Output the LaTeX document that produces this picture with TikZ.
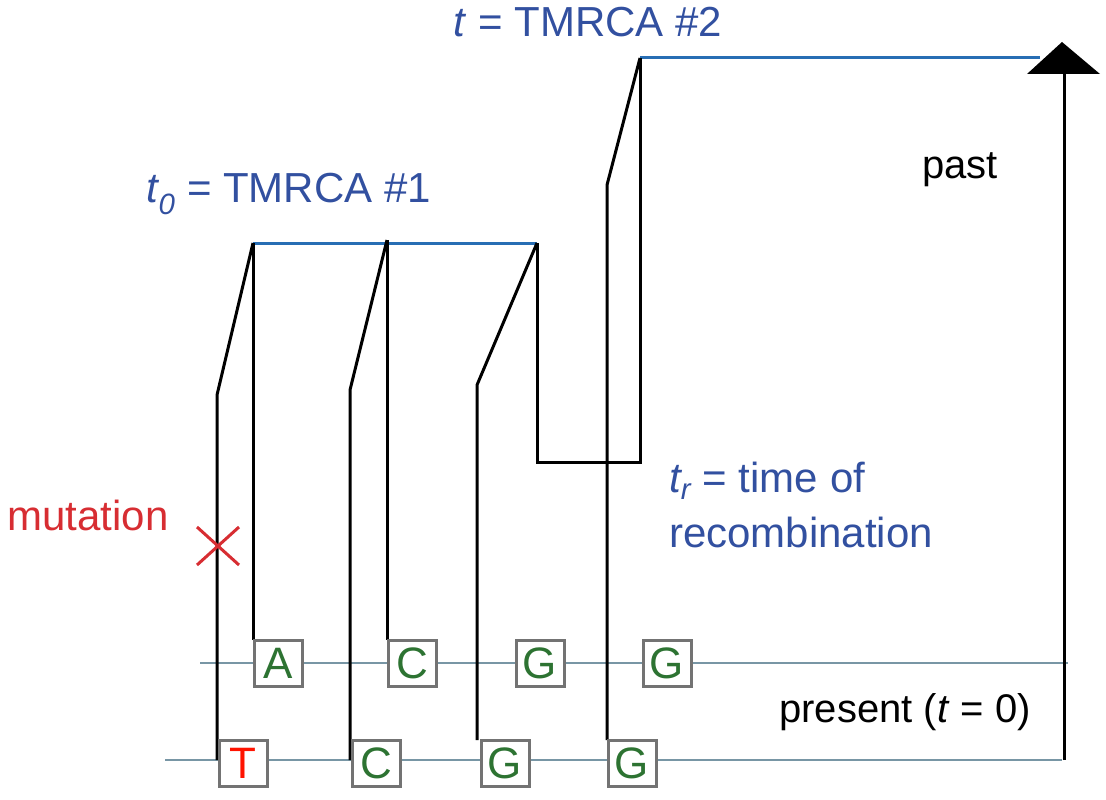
\documentclass[tikz,border=0pt]{standalone}
\usepackage{fontspec}
\setmainfont{Liberation Sans}
\begin{document}
\begin{tikzpicture}[x=1pt,y=-1pt,
  lin/.style={black,line width=3pt,line join=miter},
  box/.style={draw=gray!90!black,line width=3pt,fill=white,minimum width=48pt,minimum height=46pt,inner sep=0pt,font=\fontsize{44}{44}\selectfont,text=lgreen},
  lbl/.style={font=\fontsize{42}{55}\selectfont,inner sep=0pt},
  blk/.style={font=\fontsize{40}{48}\selectfont,inner sep=0pt}]
\useasboundingbox (0,0) rectangle (1106,800);
\definecolor{tblue}{RGB}{50,80,160}
\definecolor{lblue}{RGB}{40,110,180}
\definecolor{sgray}{RGB}{120,150,165}
\definecolor{lgreen}{RGB}{45,115,50}
\definecolor{mred}{RGB}{215,45,50}
% sequence lines
\coordinate (s1a) at (200,663); \coordinate (s1b) at (1068,663);
\coordinate (s2a) at (165,760); \coordinate (s2b) at (1062,760);
\draw[draw=sgray,line width=2.5pt] (s1a) -- (s1b);
\draw[draw=sgray,line width=2.5pt] (s2a) -- (s2b);
% coordinates
\coordinate (r1) at (253,243); \coordinate (r2) at (387,240); \coordinate (r3) at (537,243);
\coordinate (r4) at (640,58);
\coordinate (ar) at (1040,58);
% TMRCA lines
\draw[draw=lblue,line width=3pt] (r1) -- (r3);
\draw[draw=lblue,line width=3pt] (r4) -- (ar);
% lineages
\draw[lin] (r1) -- (253,640);
\draw[lin] (r1) -- (217,395) -- (217,760);
\draw[lin] (r2) -- (387,640);
\draw[lin] (r2) -- (350,390) -- (350,760);
\draw[lin] (r3) -- (477,385) -- (477,740);
\draw[lin] (r3) -- (537,462) -- (640,462) -- (r4);
\draw[lin] (r4) -- (607,185) -- (607,740);
% time axis
\coordinate (ax0) at (1064,760); \coordinate (ax1) at (1064,70);
\draw[lin] (ax0) -- (ax1);
\fill (1062,42) -- (1100,74) -- (1027,74) -- cycle;
% boxes
\node[box] (A) at (278,663) {A};
\node[box] (C1) at (412,663) {C};
\node[box] (G1) at (540,663) {G};
\node[box] (G2) at (667,663) {G};
\node[box,text=red!85!orange] (T) at (243,763) {T};
\node[box] (C2) at (376,763) {C};
\node[box] (G3) at (505,763) {G};
\node[box] (G4) at (632,763) {G};
% mutation
\draw[mred,line width=3pt] (197,527) -- (239,565) (197,565) -- (239,527);
\node[lbl,text=mred] (mut) at (88,515) {mutation};
% labels
\node[lbl,text=tblue] (tm2) at (588,22) {\textit{t} = TMRCA \#2};
\node[lbl,text=tblue] (tm1) at (289,194) {\textit{t\textsubscript{0}} = TMRCA \#1};
\node[lbl,text=tblue,anchor=north west,align=left] (tr) at (669,462) {\textit{t\textsubscript{r}} = time of\\recombination};
\node[blk] (past) at (960,170) {past};
\node[blk] (pres) at (905,712) {present (\textit{t} = 0)};
\end{tikzpicture}
\end{document}
